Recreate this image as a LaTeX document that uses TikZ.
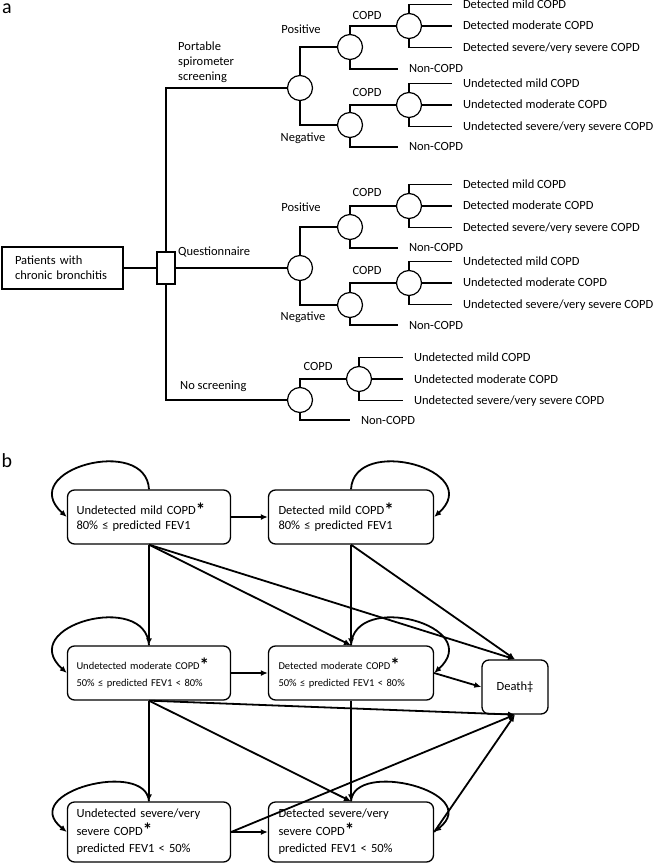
\documentclass[tikz,border=0pt]{standalone}
\usepackage{fontspec}
\setmainfont{Carlito}
\usepackage{tikz}
\usetikzlibrary{positioning,calc,arrows.meta,shapes.geometric}

\newcommand{\treefont}{\fontsize{12.5}{15}\selectfont}
\newcommand{\midfont}{\fontsize{10.5}{17}\selectfont}
\newcommand{\astk}{{\fontsize{19}{17}\selectfont\bfseries\raisebox{-.08em}{*}}}

\tikzset{
	chance/.style={circle,draw,line width=1.2pt,minimum size=25pt,inner sep=0pt},
	decision/.style={rectangle,draw,line width=1.2pt,minimum width=18pt,minimum height=32pt,inner sep=0pt},
	leaf/.style={anchor=west,inner xsep=0pt,outer xsep=11pt,text height=8pt,text depth=0pt},
	tag/.style={inner sep=0pt},
	branch/.style={line width=1.2pt},
	state/.style={draw,line width=1.3pt,rounded corners=7pt,align=left,inner xsep=9pt,minimum height=54pt},
	trans/.style={line width=1.8pt,-{Latex[length=7pt,width=6pt]}},
}

\begin{document}
\begin{tikzpicture}[x=1pt,y=-1pt,font=\treefont]
	\useasboundingbox (0,0) rectangle (657,866);
	
	% (a) decision tree
	\node[tag,font=\fontsize{20}{20}\selectfont] (laba) at (7,9) {a};
	\node[draw,line width=1.2pt,minimum width=121pt,minimum height=42pt,align=left,text width=95pt,inner xsep=13pt] (pat) at (62.5,268) {Patients with\\chronic bronchitis};
	\node[decision] (dec) at (166,268) {};
	
	\node[chance] (spi) at (300,88) {};
	\node[chance] (que) at (300,268) {};
	\node[chance] (nos) at (300,400) {};
	
	\node[chance] (spipos) at (350,47) {};
	\node[chance] (spineg) at (350,125) {};
	\node[chance] (quepos) at (350,227) {};
	\node[chance] (queneg) at (350,305) {};
	
	\node[chance] (spiposc) at (409,26) {};
	\node[chance] (spinegc) at (409,105) {};
	\node[chance] (queposc) at (409,206) {};
	\node[chance] (quenegc) at (409,283) {};
	\node[chance] (nosc) at (359,379) {};
	
	\draw[branch] (pat) -- (dec);
	\draw[branch] (dec) |- (spi);
	\draw[branch] (dec) -- (que);
	\draw[branch] (dec) |- (nos);
	
	\node[tag,align=left,anchor=west] (lspi) at (178,62) {Portable\\spirometer\\screening};
	\node[tag,anchor=west] (lque) at (178,252) {Questionnaire};
	\node[tag,anchor=west] (lnos) at (180,386) {No screening};
	
	\foreach \a/\b/\c in {spi/spipos/spineg, que/quepos/queneg} {
		\draw[branch] (\a) |- (\b);
		\draw[branch] (\a) |- (\c);
		\draw[branch] (\b) |- (\b c);
		\draw[branch] (\c) |- (\c c);
	}
	\draw[branch] (nos) |- (nosc);
	
	\node[tag] (p1) at (301,29) {Positive};
	\node[tag] (n1) at (303,138) {Negative};
	\node[tag] (p2) at (301,207) {Positive};
	\node[tag] (n2) at (303,317) {Negative};
	
	\node[tag] (c1) at (367,15) {COPD};
	\node[tag] (c2) at (367,92) {COPD};
	\node[tag] (c3) at (367,192) {COPD};
	\node[tag] (c4) at (367,270) {COPD};
	\node[tag] (c5) at (318,366) {COPD};
	
	% outcomes of each COPD node
	\foreach \g/\x/\y/\kind in {spiposc/452/26/Detected, spinegc/452/105/Undetected, queposc/452/206/Detected, quenegc/452/283/Undetected, nosc/403/379/Undetected} {
		\node[leaf] (\g-1) at (\x,\y-21.5) {\kind{} mild COPD};
		\node[leaf] (\g-2) at (\x,\y) {\kind{} moderate COPD};
		\node[leaf] (\g-3) at (\x,\y+21.5) {\kind{} severe/very severe COPD};
		\draw[branch] (\g) |- (\g-1);
		\draw[branch] (\g) -- (\g-2);
		\draw[branch] (\g) |- (\g-3);
	}
	
	% non-COPD outcomes
	\foreach \g/\x/\y in {spipos/398/69, spineg/398/147, quepos/398/248, queneg/398/325, nos/350/420} {
		\node[leaf] (\g-non) at (\x,\y) {Non-COPD};
		\draw[branch] (\g) |- (\g-non);
	}
	
	% (b) state transitions
	\node[tag,font=\fontsize{20}{20}\selectfont] (labb) at (7,461) {b};
	
	\node[state,text width=145pt] (um) at (149,517) {Undetected mild COPD\astk\\80\% ≤ predicted FEV1};
	\node[state,text width=145pt,inner xsep=10pt] (dm) at (351,517) {Detected mild COPD\astk\\80\% ≤ predicted FEV1};
	\node[state,text width=145pt,font=\midfont] (umod) at (149,673) {Undetected moderate COPD\astk\\50\% ≤ predicted FEV1 < 80\%};
	\node[state,text width=145pt,inner xsep=10pt,font=\midfont] (dmod) at (351,673) {Detected moderate COPD\astk\\50\% ≤ predicted FEV1 < 80\%};
	\node[state,minimum width=66pt,minimum height=54pt,align=center,inner xsep=2pt] (death) at (515,687) {Death‡};
	\node[state,text width=145pt,minimum height=60pt,font=\fontsize{12.5}{17.5}\selectfont] (us) at (149,832) {Undetected severe/very\\severe COPD\astk\\predicted FEV1 < 50\%};
	\node[state,text width=145pt,inner xsep=10pt,minimum height=60pt,font=\fontsize{12.5}{17.5}\selectfont] (ds) at (351,832) {Detected severe/very\\severe COPD\astk\\predicted FEV1 < 50\%};
	
	\draw[trans] (um) -- (dm);
	\draw[trans] (um.south) -- (umod.north);
	\draw[trans] (um.south) -- (dmod.north);
	\draw[trans] (um.south) -- (death.north);
	\draw[trans] (dm.south) -- (dmod.north);
	\draw[trans] (dm.south) -- (death.north);
	
	\draw[trans] (umod) -- (dmod);
	\draw[trans] (dmod.east) -- (death.west);
	\draw[trans] (umod.south) -- (death.south);
	\draw[trans] (umod.south) -- (us.north);
	\draw[trans] (umod.south) -- (ds.north);
	\draw[trans] (dmod.south) -- (ds.north);
	
	\draw[trans] (us) -- (ds);
	\draw[trans] (us.east) -- (death.south);
	\draw[trans] (ds.east) -- (death.south);
	
	% staying in the same state
	\draw[trans] (um.north) .. controls +(-3,-55) and +(-52,-47) .. (um.west);
	\draw[trans] (dm.north) .. controls +(3,-55) and +(52,-47) .. (dm.east);
	\draw[trans] (umod.north) .. controls +(-3,-55) and +(-52,-47) .. (umod.west);
	\draw[trans] (dmod.north) .. controls +(3,-55) and +(52,-47) .. (dmod.east);
	\draw[trans] (us.north) .. controls +(-3,-42) and +(-50,-40) .. (us.west);
	\draw[trans] (ds.north) .. controls +(3,-42) and +(50,-40) .. (ds.east);
\end{tikzpicture}
\end{document}
